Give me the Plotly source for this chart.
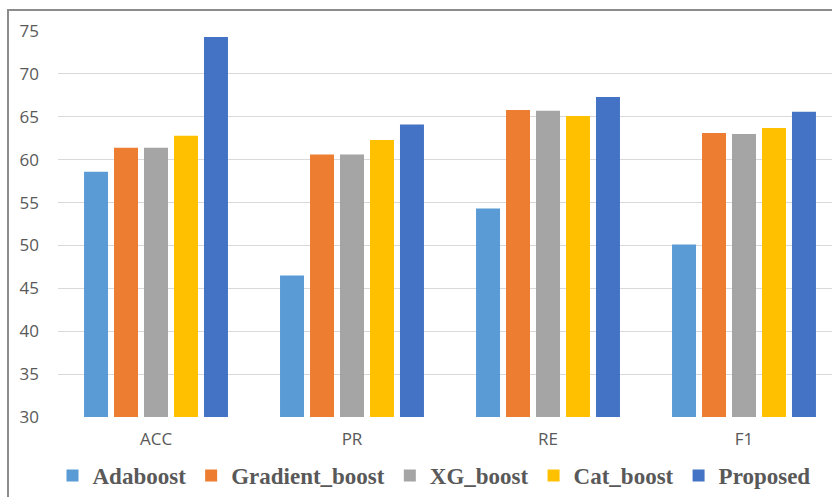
import plotly.graph_objects as go

# Metric categories and model scores (%)
metrics = ["ACC", "PR", "RE", "F1"]
adaboost = [58.6, 46.5, 54.3, 50.1]
gradient_boost = [61.4, 60.6, 65.8, 63.1]
xg_boost = [61.4, 60.6, 65.7, 63.0]
cat_boost = [62.8, 62.3, 65.1, 63.7]
proposed = [74.3, 64.1, 67.3, 65.6]

series_names = ["Adaboost", "Gradient_boost", "XG_boost", "Cat_boost", "Proposed"]
series_values = [adaboost, gradient_boost, xg_boost, cat_boost, proposed]
series_colors = ["#5B9BD5", "#ED7D31", "#A5A5A5", "#FFC000", "#4472C4"]

y_ticks = [30, 35, 40, 45, 50, 55, 60, 65, 70, 75]

W, H = 832, 497
ML, MR, MT, MB = 58, 0, 31, 80
plot_w = W - ML - MR
plot_h = H - MT - MB
slot_px = 196  # width of one category slot

fig = go.Figure()
for name, vals, col in zip(series_names, series_values, series_colors):
    fig.add_trace(go.Bar(
        name=name, x=metrics, y=vals,
        marker=dict(color=col, line=dict(width=0)),
    ))

x_max = -0.5 + plot_w / slot_px

# frame around the chart (left and top edges show, the rest runs off the page)
def px_to_paper_x(px):
    return (px - ML) / plot_w

def px_to_paper_y(py):
    return (H - MB - py) / plot_h

frame = dict(type="rect", xref="paper", yref="paper",
             x0=px_to_paper_x(8), x1=px_to_paper_x(W + 20),
             y0=px_to_paper_y(H + 20), y1=px_to_paper_y(10),
             line=dict(color="#8C8C8C", width=2), fillcolor="rgba(0,0,0,0)",
             layer="below")

fig.update_layout(
    width=W, height=H,
    margin=dict(l=ML, r=MR, t=MT, b=MB, pad=0),
    paper_bgcolor="white", plot_bgcolor="white",
    barmode="group", bargap=0.235, bargroupgap=0.2,
    shapes=[frame],
    showlegend=True,
    legend=dict(
        orientation="h", xanchor="center", x=px_to_paper_x(434),
        yanchor="middle", y=px_to_paper_y(476),
        font=dict(family="Liberation Serif, Times New Roman, serif", size=23,
                  color="#595959", weight="bold"),
        itemwidth=30, tracegroupgap=0, bgcolor="rgba(0,0,0,0)",
    ),
    xaxis=dict(
        type="category", range=[-0.5, x_max],
        showgrid=False, showline=False, zeroline=False,
        tickfont=dict(family="Open Sans, Noto Sans, sans-serif", size=17, color="#595959"),
        ticks="", ticklabelstandoff=10,
    ),
    yaxis=dict(
        range=[30, 75], tickvals=y_ticks,
        showgrid=True, gridcolor="#D9D9D9", gridwidth=1,
        zeroline=False, showline=False,
        tickfont=dict(family="Open Sans, Noto Sans, sans-serif", size=17, color="#595959"),
        ticks="", ticklabelstandoff=18,
    ),
)

fig.write_html("out.html")
